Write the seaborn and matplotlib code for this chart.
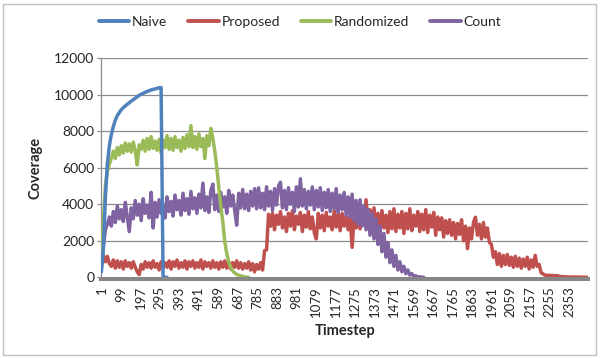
import numpy as np
import pandas as pd
import matplotlib
matplotlib.use("Agg")
import matplotlib.pyplot as plt
from matplotlib.patches import Rectangle
import seaborn as sns

# ---------------- data (values read at every 10th timestep: 1, 11, 21, ...) -------------
STEP = 10
naive = [300, 1600, 4400, 6200, 7200, 7820, 8250, 8600, 8850, 9020,
         9170, 9280, 9380, 9470, 9550, 9640, 9720, 9800, 9880, 9960,
         10020, 10070, 10120, 10170, 10210, 10250, 10280, 10310, 10340, 10370,
         10380, 0, 0, 0]

randomized = [700, 3000, 5000, 5800, 6200, 6500, 6900, 6500, 7100, 6700,
              7200, 6800, 7350, 6900, 7300, 6850, 7400, 6950, 6150, 7250,
              7000, 7500, 6900, 7600, 7000, 7700, 7050, 7450, 6950, 7550,
              6800, 7500, 7100, 7750, 7000, 7600, 6950, 7700, 7100, 7500,
              6900, 7650, 7050, 7800, 7150, 8300, 7100, 7700, 7000, 7850,
              7150, 7600, 6500, 7750, 7200, 8150, 7600, 6900, 6000, 4900,
              3900, 3050, 1950, 1300, 820, 560, 340, 240, 160, 110,
              80, 50, 25, 10, 0]

count = [560, 1700, 2600, 2900, 3300, 2800, 3600, 3000, 3900, 3200,
         3700, 3050, 4100, 3300, 2500, 3800, 3200, 4200, 3400, 4000,
         3100, 4300, 3500, 3950, 3250, 4650, 2700, 4100, 3300, 4250,
         3500, 4000, 3250, 4400, 3600, 4150, 3350, 4500, 3700, 4200,
         3400, 4600, 3650, 4300, 3450, 4700, 3750, 4350, 3500, 4550,
         3800, 5150, 3650, 4400, 3550, 4750, 5100, 3700, 4500, 3600,
         4650, 3850, 4400, 3500, 4750, 3900, 4500, 3650, 2850, 4600,
         3800, 4800, 3750, 4550, 3650, 4700, 3900, 4850, 3750, 4900,
         3800, 4600, 3700, 4950, 3900, 4700, 3650, 4850, 3950, 5000,
         5200, 3800, 4750, 3700, 4900, 4000, 4650, 3600, 4950, 3850,
         5390, 3900, 4800, 3750, 4700, 3950, 4950, 3700, 4750, 3850,
         4900, 3650, 4650, 3800, 4800, 3600, 4600, 3750, 4850, 3550,
         4500, 3700, 4650, 3400, 4400, 3300, 4550, 3100, 4200, 2900,
         4240, 2800, 3900, 2600, 3700, 2300, 3500, 2100, 3200, 1800,
         2800, 1400, 2400, 1100, 1900, 800, 1500, 600, 1200, 400,
         850, 300, 600, 200, 400, 120, 200, 60, 80, 20,
         30, 0, 0]

proposed = [700, 1200, 850, 1150, 750, 600, 950, 500, 900, 550,
            850, 450, 900, 600, 800, 500, 850, 550, 300, 150,
            700, 450, 850, 550, 800, 500, 900, 550, 750, 400,
            850, 500, 800, 550, 900, 450, 850, 600, 950, 500,
            800, 550, 900, 450, 850, 600, 900, 500, 800, 550,
            950, 450, 850, 600, 800, 500, 900, 550, 800, 450,
            850, 550, 900, 500, 850, 450, 800, 550, 900, 500,
            800, 450, 750, 500, 850, 400, 750, 300, 700, 450,
            800, 400, 1460, 1500, 3450, 2800, 3500, 2600, 3400, 2900,
            3600, 2700, 3300, 2500, 3500, 2800, 3650, 2600, 3350, 2900,
            3550, 2500, 3400, 2750, 3600, 2650, 3300, 2450, 2100, 3500,
            2700, 3400, 2550, 3550, 2800, 3300, 2600, 3650, 2750, 3450,
            2550, 3500, 2800, 3350, 2600, 3300, 1640, 3200, 2700, 3500,
            2650, 3700, 2900, 4240, 3000, 3700, 2600, 3800, 2750, 3500,
            2500, 3650, 2700, 3400, 2450, 3600, 2650, 3750, 2500, 3450,
            2700, 3600, 2400, 3500, 2650, 3750, 2550, 3400, 2800, 3600,
            2500, 3450, 2600, 3700, 2450, 3400, 2750, 3550, 2300, 3300,
            2600, 3250, 2200, 3100, 2400, 3150, 2300, 3000, 2100, 2950,
            2350, 3150, 2000, 2800, 1570, 2700, 2100, 3000, 3290, 2300,
            2900, 2100, 3000, 2200, 2700, 1900, 1800, 1100, 1400, 700,
            1300, 600, 1200, 700, 1250, 650, 1100, 550, 1150, 600,
            1050, 500, 1000, 600, 1100, 450, 950, 550, 1200, 600,
            700, 250, 180, 120, 100, 110, 90, 100, 80, 90,
            60, 40, 30, 25, 20, 20, 15, 15, 10, 10,
            10, 5, 5, 5, 5]

series_names = ["Naive", "Proposed", "Randomized", "Count"]
series_values = [naive, proposed, randomized, count]
colors = ["#4F81BD", "#C0504D", "#9BBB59", "#8064A2"]
zorders = [6, 3, 5, 4]

n_timesteps = 2446
x_tick_labels = list(range(1, 2354, 98))
y_ticks = [0, 2000, 4000, 6000, 8000, 10000, 12000]

# ---------------- figure ----------------
sns.set_style("white")
plt.rcParams["font.family"] = ["Lato", "DejaVu Sans"]

fig = plt.figure(figsize=(6.0, 3.58), dpi=100)
ax = fig.add_axes([101.3 / 600, 1 - 277.3 / 358, (588 - 101.3) / 600, (277.3 - 58) / 358])

grid_c = "#8C8C8C"
for yv in y_ticks[1:]:
    ax.axhline(yv, color=grid_c, lw=0.9, zorder=1)

handles = {}
for name, vals, c, z in zip(series_names, series_values, colors, zorders):
    df = pd.DataFrame({"Timestep": 1 + STEP * np.arange(len(vals)), "Coverage": vals})
    sns.lineplot(data=df, x="Timestep", y="Coverage", ax=ax, color=c, lw=2.5,
                 errorbar=None, legend=False, zorder=z)
    handles[name] = ax.lines[-1]

ax.set_xlim(0.5, n_timesteps + 0.5)
ax.set_ylim(0, 12000)
ax.set_yticks(y_ticks)
ax.set_yticklabels([str(v) for v in y_ticks])
ax.set_xticks(x_tick_labels)
ax.set_xticklabels([str(v) for v in x_tick_labels])
ax.tick_params(axis="x", length=0, pad=5, labelrotation=90, labelsize=9.5, labelcolor="#262626")
ax.tick_params(axis="y", length=3, width=0.9, color=grid_c, pad=2, direction="out", left=True,
               labelsize=10, labelcolor="#262626")

for s in ["top", "right"]:
    ax.spines[s].set_visible(False)
ax.spines["left"].set_color(grid_c)
ax.spines["left"].set_linewidth(0.9)
ax.spines["bottom"].set_color("#878787")
ax.spines["bottom"].set_linewidth(2.9)
ax.spines["bottom"].set_position(("outward", 1.5))
ax.spines["bottom"].set_zorder(2)

ax.set_xlabel("Timestep", fontsize=10.5, fontweight="bold", labelpad=5)
ax.set_ylabel("Coverage", fontsize=10.5, fontweight="bold", labelpad=8)

leg = fig.legend([handles[n] for n in series_names], series_names, loc="center",
                 bbox_to_anchor=(0.5, 1 - 22 / 358), ncol=4, frameon=False, fontsize=10,
                 handlelength=2.2, handletextpad=0.2, columnspacing=1.5)
for lh in leg.get_lines():
    lh.set_linewidth(2.8)

fig.patches.append(Rectangle((3 / 600, 3 / 358), 593 / 600, 351 / 358, transform=fig.transFigure,
                             fill=False, edgecolor="#BFBFBF", lw=1.0))

fig.savefig("out.png", dpi=100)
